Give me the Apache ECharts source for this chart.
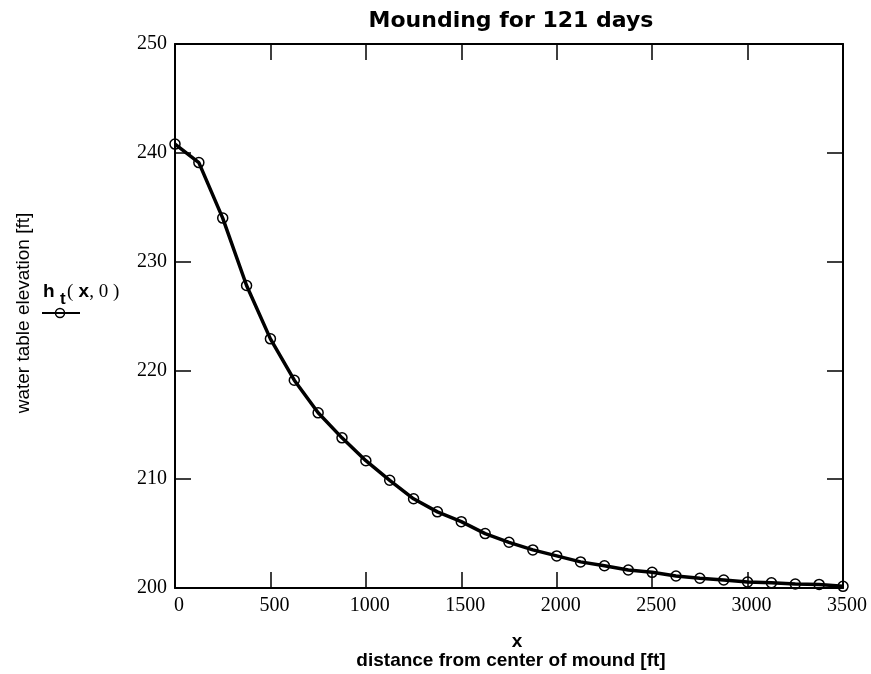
<!DOCTYPE html>
<html>
<head>
<meta charset="utf-8">
<script src="https://cdn.jsdelivr.net/npm/echarts@6.0.0/dist/echarts.min.js"></script>
<style>
html,body{margin:0;padding:0;background:#fff;}
#chart{width:871px;height:674px;}
</style>
</head>
<body>
<div id="chart"></div>
<script>
// distance from center of mound [ft]
var xValues = [0,125,250,375,500,625,750,875,1000,1125,1250,1375,1500,1625,1750,1875,2000,2125,2250,2375,2500,2625,2750,2875,3000,3125,3250,3375,3500];
// water table elevation h_t(x,0) [ft]
var yValues = [240.8,239.1,234.0,227.8,222.9,219.1,216.1,213.8,211.7,209.9,208.2,207.0,206.1,205.0,204.2,203.5,202.95,202.4,202.05,201.65,201.44,201.1,200.9,200.73,200.55,200.48,200.37,200.33,200.15];
var xTicks = {min:0, max:3500, interval:500};
var yTicks = {min:200, max:250, interval:10};
var titleText = 'Mounding for 121 days';
var xName = 'x';
var xDesc = 'distance from center of mound [ft]';
var yName = 'water table elevation [ft]';

var chart = echarts.init(document.getElementById('chart'), null, {renderer:'canvas'});
var serif = '"Liberation Serif","Times New Roman",serif';
var sans = '"Liberation Sans",Arial,sans-serif';

function axisCommon(showLabels, isX) {
  return {
    type: 'value',
    axisLine: {show:true, onZero:false, lineStyle:{color:'#000', width:2}},
    axisTick: {show:true, inside:true, length:16, lineStyle:{color:'#000', width:1.5}},
    splitLine: {show:false},
    axisLabel: showLabels ? {
      show:true, color:'#000', fontFamily:serif, fontSize:20, margin:8,
      showMinLabel:true, showMaxLabel:true,
      formatter:function(v){return String(v);},
      padding: isX ? [0,0,0,8] : [4,0,0,0]
    } : {show:false}
  };
}

var xb = Object.assign(axisCommon(true, true), {position:'bottom', min:xTicks.min, max:xTicks.max, interval:xTicks.interval});
var xt = Object.assign(axisCommon(false, true), {position:'top', min:xTicks.min, max:xTicks.max, interval:xTicks.interval});
var yl = Object.assign(axisCommon(true, false), {position:'left', min:yTicks.min, max:yTicks.max, interval:yTicks.interval});
var yr = Object.assign(axisCommon(false, false), {position:'right', min:yTicks.min, max:yTicks.max, interval:yTicks.interval});

var option = {
  animation:false,
  backgroundColor:'#fff',
  grid:{left:175, top:44, width:668, height:544},
  xAxis:[xb, xt],
  yAxis:[yl, yr],
  series:[{
    type:'line',
    xAxisIndex:0, yAxisIndex:0,
    data: xValues.map(function(x,i){return [x, yValues[i]];}),
    symbol:'circle', symbolSize:10, showSymbol:true,
    itemStyle:{color:'rgba(0,0,0,0)', borderColor:'#000', borderWidth:1.5},
    lineStyle:{color:'#000', width:3.5},
    z:3
  }],
  graphic:[
    {type:'text', x:511, y:21, style:{text:titleText, font:'bold 22px "DejaVu Sans",sans-serif', fill:'#000', align:'center', verticalAlign:'middle'}},
    {type:'text', x:517, y:642, style:{text:xName, font:'bold 19px '+sans, fill:'#000', align:'center', verticalAlign:'middle'}},
    {type:'text', x:511, y:661, style:{text:xDesc, font:'bold 19px '+sans, fill:'#000', align:'center', verticalAlign:'middle'}},
    {type:'text', x:24, y:313, rotation:Math.PI/2, style:{text:yName, font:'19px '+sans, fill:'#000', align:'center', verticalAlign:'middle'}},
    {type:'text', x:43, y:292, style:{text:'h', font:'bold 19px '+sans, fill:'#000', align:'left', verticalAlign:'middle'}},
    {type:'text', x:60, y:299, style:{text:'t', font:'bold 17px '+sans, fill:'#000', align:'left', verticalAlign:'middle'}},
    {type:'text', x:67, y:292, style:{
      text:'{p|(}{x| x}{p|, 0 )}', align:'left', verticalAlign:'middle',
      rich:{p:{fontFamily:serif, fontSize:19, fill:'#000', color:'#000'}, x:{fontFamily:sans, fontWeight:'bold', fontSize:19, color:'#000'}}
    }},
    {type:'line', shape:{x1:42, y1:313, x2:80, y2:313}, style:{stroke:'#000', lineWidth:2}},
    {type:'circle', shape:{cx:60, cy:313, r:4.5}, style:{stroke:'#000', lineWidth:1.5, fill:'rgba(0,0,0,0)'}}
  ]
};
chart.setOption(option);
</script>
</body>
</html>
